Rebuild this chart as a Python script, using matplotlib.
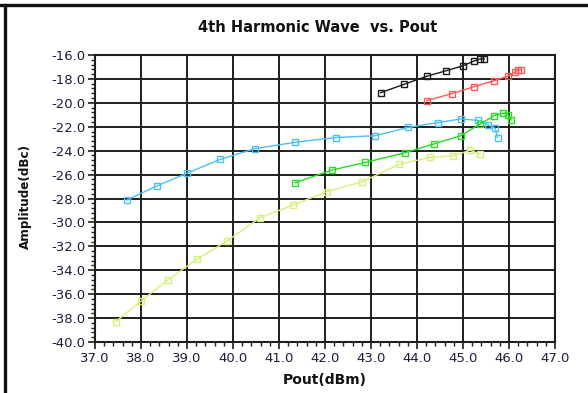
import matplotlib
matplotlib.use("Agg")
import matplotlib.pyplot as plt
from matplotlib.lines import Line2D
from matplotlib.ticker import MultipleLocator, FormatStrFormatter

plt.rcParams['axes.unicode_minus'] = False

# Pout (dBm) / amplitude (dBc) pairs
cyan_x = [37.69, 38.34, 38.99, 39.72, 40.48, 41.35, 42.24, 43.09, 43.81, 44.45, 44.95, 45.32, 45.55, 45.70, 45.75]
cyan_y = [-28.13, -26.96, -25.90, -24.73, -23.83, -23.30, -22.90, -22.75, -22.05, -21.66, -21.35, -21.46, -21.85, -22.13, -22.90]

green_x = [41.35, 42.15, 42.88, 43.74, 44.38, 44.95, 45.37, 45.68, 45.88, 45.98, 46.04]
green_y = [-26.68, -25.62, -24.98, -24.17, -23.42, -22.75, -21.77, -21.07, -20.85, -20.99, -21.44]

black_x = [43.21, 43.72, 44.21, 44.64, 45.01, 45.24, 45.37, 45.46]
black_y = [-19.15, -18.45, -17.78, -17.31, -16.89, -16.50, -16.33, -16.33]

red_x = [44.21, 44.75, 45.24, 45.68, 45.98, 46.12, 46.20, 46.25]
red_y = [-19.82, -19.24, -18.65, -18.15, -17.76, -17.45, -17.25, -17.25]

lime_x = [37.45, 38.01, 38.58, 39.21, 39.88, 40.59, 41.31, 42.04, 42.81, 43.61, 44.28, 44.78, 45.15, 45.37]
lime_y = [-38.30, -36.55, -34.82, -33.09, -31.53, -29.60, -28.54, -27.43, -26.60, -25.15, -24.56, -24.45, -23.97, -24.28]

series = [
    (cyan_x, cyan_y, '#4DC0F2'),
    (lime_x, lime_y, '#D2F27A'),
    (green_x, green_y, '#22E022'),
    (red_x, red_y, '#FF5A5A'),
    (black_x, black_y, '#1A1A1A'),
]

fig = plt.figure(figsize=(5.88, 3.93), dpi=100)
ax = fig.add_axes([95 / 588, 1 - 342 / 393, 460 / 588, 287 / 393])

for xs, ys, col in series:
    ax.plot(xs, ys, color=col, lw=1.0, marker='s', ms=5, mfc='none',
            mec=col, mew=1.0, zorder=3)

ax.set_xlim(37, 47)
ax.set_ylim(-40, -16)
ax.xaxis.set_major_locator(MultipleLocator(1))
ax.xaxis.set_minor_locator(MultipleLocator(0.2))
ax.yaxis.set_major_locator(MultipleLocator(2))
ax.yaxis.set_minor_locator(MultipleLocator(0.4))
ax.xaxis.set_major_formatter(FormatStrFormatter('%.1f'))
ax.yaxis.set_major_formatter(FormatStrFormatter('%.1f'))

ax.grid(True, which='major', color='#1e1e1e', lw=1.4)
for s in ax.spines.values():
    s.set_color('#1e1e1e')
    s.set_linewidth(1.5)

tick_col = '#1c1c3c'
ax.tick_params(which='major', length=5, width=1.2, color='#1e1e1e',
               labelsize=9.5, labelcolor=tick_col, pad=2)
ax.tick_params(which='minor', length=3, width=1.0, color='#1e1e1e')

fig.text(0.54, 0.929, '4th Harmonic Wave  vs. Pout', ha='center', va='center',
         fontsize=10.5, fontweight='bold', color='#111111')
fig.text(0.553, 0.033, 'Pout(dBm)', ha='center', va='center',
         fontsize=10, fontweight='bold', color='#111111')
fig.text(0.043, 0.5, 'Amplitude(dBc)', ha='center', va='center', rotation=90,
         fontsize=9.5, fontweight='bold', fontstretch='condensed', color='#111111',
         family='DejaVu Sans')

# dark frame on the top and left edge of the picture
fig.add_artist(Line2D([0, 1], [1 - 5 / 393, 1 - 5 / 393], transform=fig.transFigure,
                      color='#111111', lw=2.4))
fig.add_artist(Line2D([5 / 588, 5 / 588], [0, 1 - 5 / 393], transform=fig.transFigure,
                      color='#111111', lw=2.4))

fig.savefig('out.png', dpi=100)
